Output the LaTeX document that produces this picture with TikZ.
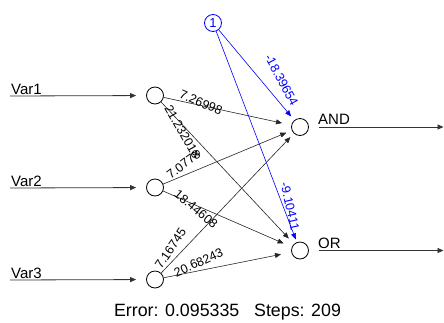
\documentclass[tikz,border=0pt]{standalone}
\usepackage{fontspec}
\setmainfont{Liberation Sans}
\usetikzlibrary{arrows.meta}
\begin{document}
\begin{tikzpicture}[x=1pt,y=-1pt,
  neuron/.style={circle,draw=black,line width=0.8pt,minimum size=17pt,inner sep=0pt},
  biasnode/.style={neuron,draw=blue,text=blue,font=\fontsize{13}{15}\selectfont},
  syn/.style={draw=black!85,line width=0.6pt,-{Triangle[length=6pt,width=5pt]}},
  bsyn/.style={draw=blue,line width=0.6pt,-{Triangle[length=6pt,width=5pt]}},
  io/.style={draw=black!80,line width=0.8pt,-{Triangle[length=6pt,width=5pt]}},
  varlab/.style={font=\fontsize{15}{18}\selectfont,inner sep=0pt,anchor=base west},
  wlab/.style={font=\fontsize{12.5}{14}\selectfont,inner sep=0pt},
  blab/.style={wlab,text=blue}]
\useasboundingbox[fill=white] (0,0) rectangle (444,322);
% neurons
\node[neuron] (i1) at (155,95.5) {};
\node[neuron] (i2) at (155,187.5) {};
\node[neuron] (i3) at (155,279.5) {};
\node[neuron] (and) at (300,127) {};
\node[neuron] (or) at (300,250.5) {};
\node[biasnode] (b) at (213,23) {1};
% input arrows
\coordinate (s1) at (10,96);
\coordinate (s2) at (10,188);
\coordinate (s3) at (10,280);
\draw[io,shorten >=10pt] (s1) -- (i1);
\draw[io,shorten >=10pt] (s2) -- (i2);
\draw[io,shorten >=10pt] (s3) -- (i3);
\node[varlab] (l1) at (11,94) {Var1};
\node[varlab] (l2) at (11,186) {Var2};
\node[varlab] (l3) at (11,278) {Var3};
% output arrows
\coordinate (o1) at (443.5,127);
\coordinate (o2) at (443.5,250.5);
\draw[io,shorten <=10pt] (and) -- (o1);
\draw[io,shorten <=10pt] (or) -- (o2);
\node[varlab] (land) at (318,124.5) {AND};
\node[varlab] (lor) at (318,248) {OR};
% synapses
\draw[syn,shorten >=9.5pt] (i1) -- (and);
\draw[syn,shorten >=6pt] (i2) -- (and);
\draw[syn,shorten >=5pt] (i3) -- (and);
\draw[syn,shorten >=7.5pt] (i1) -- (or);
\draw[syn,shorten >=9pt] (i2) -- (or);
\draw[syn,shorten >=10.5pt] (i3) -- (or);
\draw[bsyn,shorten >=5pt] (b) -- (and);
\draw[bsyn,shorten >=3pt] (b) -- (or);
% weights
\node[wlab,rotate=-24] (w11) at (201,102.5) {7.26998};
\node[wlab,rotate=-60] (w12) at (182.5,131.5) {21.232018};
\node[wlab,rotate=37] (w21) at (183.5,164.5) {7.0778};
\node[wlab,rotate=-40] (w22) at (196,209) {18.44608};
\node[wlab,rotate=56] (w31) at (170.5,248.5) {7.16745};
\node[wlab,rotate=24] (w32) at (198.5,262.5) {20.68243};
\node[blab,rotate=-61.6] (wb1) at (281.5,80) {-18.39654};
\node[blab,rotate=-77] (wb2) at (290,206.5) {-9.10411};
% footer
\node[font=\fontsize{17.8}{20}\selectfont,inner sep=0pt,anchor=base] (err) at (227.5,316.5) {Error: 0.095335\ \ \ Steps: 209};
\end{tikzpicture}
\end{document}
